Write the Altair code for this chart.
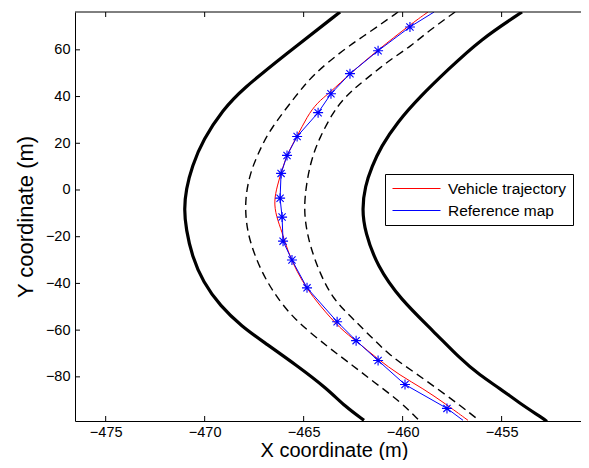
import altair as alt
import pandas as pd

# ---------------- data ----------------
x_ticks = [-475, -470, -465, -460, -455]
y_ticks = [-80, -60, -40, -20, 0, 20, 40, 60]

edge_left_x = [-463.16, -465.94, -468.13, -469.07, -470.08, -470.64, -470.94, -471.04, -470.94,
               -470.64, -470.08, -469.22, -468.11, -467.05, -465.33, -463.82, -462.91, -461.95]
edge_left_y = [76.2, 57.9, 42.9, 34.4, 21.6, 10.1, 0.3, -8.2, -16.8,
               -28.3, -39.4, -49.6, -58.5, -64.9, -75.2, -85.0, -92.7, -98.6]

lane_left_x = [-460.23, -461.65, -463.01, -464.53, -465.35, -466.70, -467.20, -467.71, -467.96, -467.91,
               -467.71, -467.20, -466.55, -465.54, -463.67, -462.51, -461.49, -460.13, -459.17]
lane_left_y = [76.2, 67.7, 60.0, 49.3, 40.8, 25.9, 17.4, 7.5, -4.0, -13.8,
               -22.3, -33.8, -43.6, -55.1, -67.9, -75.2, -82.0, -90.5, -98.6]

lane_right_x = [-457.35, -458.62, -459.63, -460.48, -461.14, -461.90, -462.51, -463.01, -463.52, -464.17,
                -464.68, -464.98, -464.93, -464.68, -464.17, -463.52, -462.66, -461.65, -460.64, -459.47,
                -458.26, -457.10, -456.14]
lane_right_y = [76.2, 68.5, 61.3, 56.6, 52.3, 47.2, 42.9, 38.7, 33.1, 22.9,
                11.8, -4.0, -13.8, -24.0, -35.9, -46.6, -53.9, -62.4, -70.9, -77.7,
                -85.0, -92.2, -98.6]

edge_right_x = [-453.97, -456.09, -457.71, -459.12, -460.28, -461.09, -461.55, -461.90, -462.05, -461.90,
                -461.29, -460.13, -458.41, -457.10, -456.09, -455.08, -454.07, -452.91, -452.71]
edge_right_y = [76.2, 64.3, 51.5, 40.0, 28.9, 18.6, 10.1, 1.6, -8.2, -18.0,
                -32.5, -46.6, -60.7, -72.2, -79.4, -85.0, -91.4, -97.8, -99.1]

vehicle_x = [-458.72, -459.63, -461.24, -462.66, -463.67, -464.32, -464.83, -465.33, -465.79, -466.09,
             -466.34, -466.50, -466.39, -466.09, -465.79, -465.33, -464.83, -464.17, -463.16, -462.30,
             -461.29, -460.13, -458.97, -457.86, -456.70]
vehicle_y = [76.2, 70.7, 60.0, 49.8, 41.7, 37.4, 31.4, 22.9, 16.1, 8.8,
             1.6, -4.8, -11.2, -18.0, -26.6, -35.1, -42.3, -49.6, -59.4, -64.9,
             -72.2, -79.4, -85.0, -91.4, -98.6]

ref_x = [-458.41, -459.63, -461.24, -462.66, -463.62, -464.27, -465.33, -465.84, -466.14, -466.19,
         -466.09, -466.04, -465.59, -464.83, -463.31, -462.35, -461.24, -459.88, -457.76, -456.95]
ref_y = [76.2, 69.8, 59.6, 49.8, 41.2, 33.1, 22.9, 14.8, 7.1, -3.5,
         -11.6, -21.9, -30.0, -41.9, -56.4, -64.5, -73.0, -83.3, -93.5, -98.6]
ref_star = [False] + [True] * 18 + [False]

series_names = ["Vehicle trajectory", "Reference map"]
series_colors = ["#ff0000", "#0000ff"]

# ---------------- layout ----------------
W, H = 506, 409
FONT = "Liberation Sans"
x_domain = [-476.55, -450.99]
y_domain = [-98.9, 76.2]


def frame(xv, yv, name):
    return pd.DataFrame({"x": xv, "y": yv, "i": list(range(len(xv))), "line": name})


edges = pd.concat([frame(edge_left_x, edge_left_y, "edge_left"),
                   frame(edge_right_x, edge_right_y, "edge_right")])
lanes = pd.concat([frame(lane_left_x, lane_left_y, "lane_left"),
                   frame(lane_right_x, lane_right_y, "lane_right")])
veh = frame(vehicle_x, vehicle_y, series_names[0])
ref = frame(ref_x, ref_y, series_names[1])
stars = ref[pd.Series(ref_star).values]
xt = pd.DataFrame({"x": x_ticks})
yt = pd.DataFrame({"y": y_ticks})

xs = alt.Scale(domain=x_domain, nice=False, zero=False)
ys = alt.Scale(domain=y_domain, nice=False, zero=False)

X = alt.X("x:Q", scale=xs, title="X coordinate (m)",
          axis=alt.Axis(values=x_ticks, format="d", ticks=False, grid=False,
                        domainColor="black", domainWidth=1,
                        labelFont=FONT, labelFontSize=14.5, labelColor="black", labelPadding=4,
                        titleFont=FONT, titleFontSize=20, titleFontWeight="normal", titleColor="black",
                        titleX=259, titleY=35, titleBaseline="alphabetic", titleAlign="center"))
Y = alt.Y("y:Q", scale=ys, title="Y coordinate (m)",
          axis=alt.Axis(values=y_ticks, format="d", ticks=False, grid=False,
                        domainColor="black", domainWidth=1,
                        labelFont=FONT, labelFontSize=14.5, labelColor="black", labelPadding=5,
                        titleFont=FONT, titleFontSize=22, titleFontWeight="normal", titleColor="black",
                        titleX=-43, titleY=H / 2, titleAngle=270, titleBaseline="alphabetic",
                        titleAlign="center"))

color = alt.Color("line:N", title=None,
                  scale=alt.Scale(domain=series_names, range=series_colors),
                  legend=alt.Legend(orient="none", legendX=310, legendY=162, padding=6,
                                    strokeColor="black", fillColor="white",
                                    symbolType="M-3,0H3", symbolSize=256, symbolStrokeWidth=1,
                                    symbolOffset=17, labelOffset=23, rowPadding=5,
                                    labelFont=FONT, labelFontSize=15.5, labelColor="black",
                                    labelLimit=300))

edge_layer = alt.Chart(edges).mark_line(color="black", strokeWidth=3.2, interpolate="basis",
                                        clip=True).encode(x=X, y=Y, detail="line:N", order="i:Q")
lane_layer = alt.Chart(lanes).mark_line(color="black", strokeWidth=1.4, strokeDash=[8, 5],
                                        interpolate="basis", clip=True).encode(
    x=X, y=Y, detail="line:N", order="i:Q")
veh_layer = alt.Chart(veh).mark_line(strokeWidth=1, interpolate="basis", clip=True).encode(
    x=X, y=Y, color=color, order="i:Q")
ref_layer = alt.Chart(ref).mark_line(strokeWidth=1, clip=True).encode(
    x=X, y=Y, color=color, order="i:Q")
ASTERISK = "M-1,0H1M0,-1V1M-0.72,-0.72L0.72,0.72M-0.72,0.72L0.72,-0.72"
star_layer = alt.Chart(stars).mark_point(shape=ASTERISK, size=100, filled=False, color="#0000ff",
                                         strokeWidth=1.1, opacity=1).encode(x=X, y=Y)

tick_bottom = alt.Chart(xt).mark_rule(color="black", strokeWidth=1).encode(
    x=X, y=alt.value(H), y2=alt.value(H - 5))
tick_top = alt.Chart(xt).mark_rule(color="black", strokeWidth=1).encode(
    x=X, y=alt.value(0), y2=alt.value(5))
tick_left = alt.Chart(yt).mark_rule(color="black", strokeWidth=1).encode(
    y=Y, x=alt.value(0), x2=alt.value(5))
top_border = alt.Chart(alt.Data(values=[{"a": 1}])).mark_rule(color="black", strokeWidth=1).encode(
    x=alt.value(0), x2=alt.value(W), y=alt.value(0))

chart = alt.layer(edge_layer, lane_layer, veh_layer, ref_layer, star_layer,
                  tick_bottom, tick_top, tick_left, top_border).properties(
    width=W, height=H,
    autosize=alt.AutoSizeParams(type="none"),
    padding={"left": 67, "top": 4, "right": 0, "bottom": 39},
    background="white",
).configure_view(stroke=None)

chart.save("out.html", embed_options={"renderer": "svg", "actions": False})
